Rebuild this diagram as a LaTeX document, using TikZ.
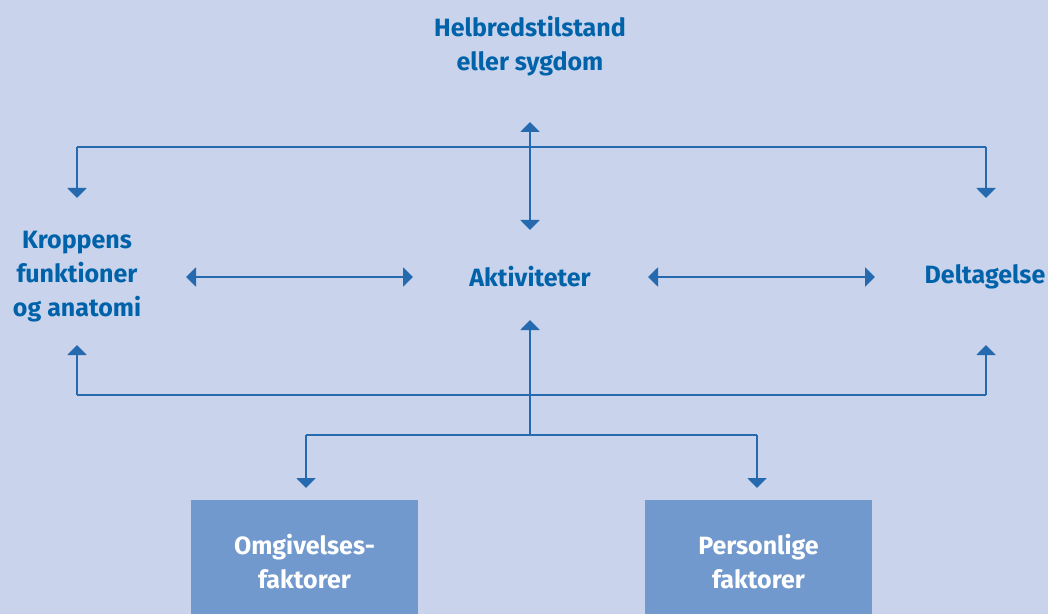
\documentclass[tikz,border=0pt]{standalone}
\usepackage{fontspec}
\setmainfont{Fira Sans}
\usetikzlibrary{arrows.meta}
\definecolor{bg}{HTML}{C9D3EC}
\definecolor{txt}{HTML}{0062A9}
\definecolor{ln}{HTML}{2569AE}
\definecolor{boxc}{HTML}{7199CD}
\tikzset{
  lbl/.style={text=txt, font=\fontsize{25}{34}\selectfont\bfseries, align=center, inner sep=0pt},
  wlbl/.style={text=white, font=\fontsize{25}{34}\selectfont\bfseries, align=center, inner sep=0pt},
  fbox/.style={fill=boxc, draw=none, minimum width=227pt, minimum height=114pt, inner sep=0pt},
  conn/.style={draw=ln, line width=2pt, -{Triangle[width=19pt,length=10pt]}},
  dconn/.style={draw=ln, line width=2pt, {Triangle[width=19pt,length=10pt]}-{Triangle[width=19pt,length=10pt]}},
  plain/.style={draw=ln, line width=2pt},
}
\begin{document}
\begin{tikzpicture}[x=1pt,y=1pt]
\fill[bg] (0,0) rectangle (1048,614);
\useasboundingbox (0,0) rectangle (1048,614);
% nodes
\node[lbl] (helb) at (530,568) {Helbredstilstand\\eller sygdom};
\node[lbl] (krop) at (77,337) {Kroppens\\funktioner\\og anatomi};
\node[lbl] (akt) at (530,337) {Aktiviteter};
\node[lbl] (delt) at (985,337) {Deltagelse};
\node[fbox, anchor=south west] (omgbox) at (191,0) {};
\node[fbox, anchor=south west] (perbox) at (645,0) {};
\node[wlbl] (omg) at (304.5,52) {Omgivelses-\\faktorer};
\node[wlbl] (per) at (758.5,52) {Personlige\\faktorer};
% coordinates
\coordinate (topA) at (530,492);
\coordinate (topB) at (530,384);
\coordinate (tl) at (77,467);
\coordinate (tr) at (986,467);
\coordinate (tlE) at (77,416);
\coordinate (trE) at (986,416);
\coordinate (hL1) at (186,337);
\coordinate (hL2) at (413,337);
\coordinate (hR1) at (648,337);
\coordinate (hR2) at (875,337);
\coordinate (midTip) at (530,294);
\coordinate (midBase) at (530,179);
\coordinate (bl) at (77,219);
\coordinate (br) at (986,219);
\coordinate (blE) at (77,269);
\coordinate (brE) at (986,269);
\coordinate (jl) at (306,179);
\coordinate (jr) at (757,179);
\coordinate (jlE) at (306,126);
\coordinate (jrE) at (757,126);
% connectors
\draw[dconn] (topA) -- (topB);
\draw[plain] (tr) -- (tl);
\draw[conn] (tl) -- (tlE);
\draw[conn] (tr) -- (trE);
\draw[dconn] (hL1) -- (hL2);
\draw[dconn] (hR1) -- (hR2);
\draw[conn] (midBase) -- (midTip);
\draw[plain] (bl) -- (br);
\draw[conn] (bl) -- (blE);
\draw[conn] (br) -- (brE);
\draw[plain] (jl) -- (jr);
\draw[conn] (jl) -- (jlE);
\draw[conn] (jr) -- (jrE);
\end{tikzpicture}
\end{document}
